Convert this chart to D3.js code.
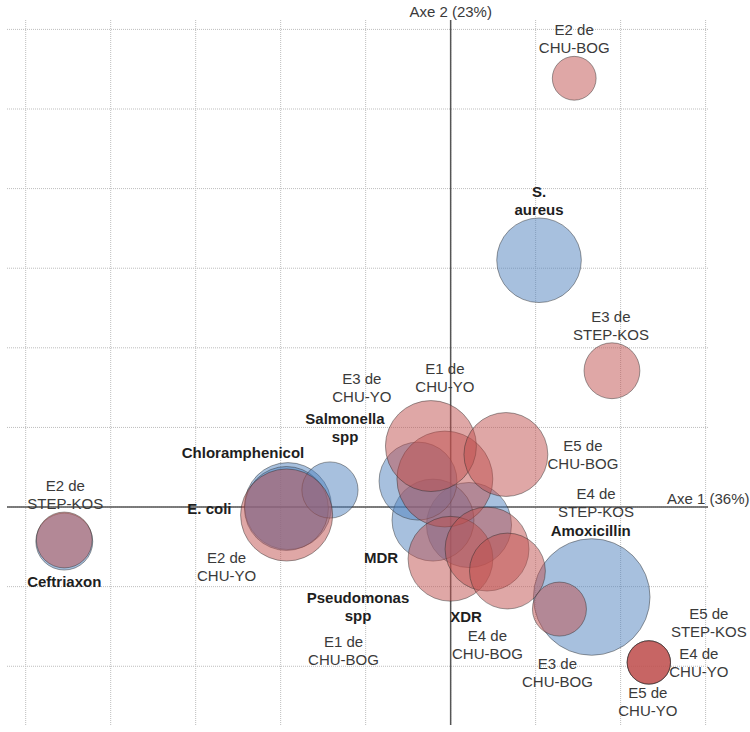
<!DOCTYPE html>
<html>
<head>
<meta charset="utf-8">
<script src="https://cdn.jsdelivr.net/npm/d3@7/dist/d3.min.js"></script>
<style>
  body { margin: 0; background: #fff; }
  text { font-family: Arial, "Liberation Sans", sans-serif; }
</style>
</head>
<body>
<div id="chart"></div>
<script>

// variables (bacteria, antibiotics, resistance) - blue series
const varNames = ["S. aureus", "Amoxicillin", "Ceftriaxon", "E. coli", "Chloramphenicol",
                  "Salmonella spp", "MDR", "Pseudomonas spp", "XDR"];
const varX    = [0.52, 0.83, -2.273, -0.966, -0.957, -0.71, -0.192, -0.104, 0.108];
const varY    = [1.55, -0.565, -0.217, -0.009, 0.006, 0.107, 0.163, -0.082, -0.113];
const varSize = [17.9, 34, 8.1, 17.6, 18.9, 7.9, 15.2, 16.8, 18.1];

// sites / periods - red series
const siteNames = ["E1 de CHU-BOG", "E2 de CHU-BOG", "E3 de CHU-BOG", "E4 de CHU-BOG", "E5 de CHU-BOG",
                   "E1 de CHU-YO", "E2 de CHU-YO", "E3 de CHU-YO", "E4 de CHU-YO", "E5 de CHU-YO",
                   "E2 de STEP-KOS", "E3 de STEP-KOS", "E4 de STEP-KOS", "E5 de STEP-KOS"];
const siteX    = [-0.001, 0.727, 0.64, 0.334, 0.325, -0.116, -0.965, -0.034, 1.166, 1.166, -2.273, 0.949, 0.214, 1.166];
const siteY    = [-0.325, 2.693, -0.641, -0.402, 0.33, 0.383, -0.05, 0.176, -0.976, -0.976, -0.207, 0.856, -0.264, -0.976];
const siteSize = [18, 4.8, 7.3, 14.4, 17.6, 20.7, 21.2, 23, 4.7, 4.7, 7.8, 7.8, 17.6, 4.7];

const axisX = "Axe 1 (36%)";
const axisY = "Axe 2 (23%)";

// where each label sits relative to its bubble (first line centre)
const labelPos = {
  "S. aureus": [0, -68], "Amoxicillin": [-1, -66], "Ceftriaxon": [0, 40], "E. coli": [-77, 1],
  "Chloramphenicol": [-45, -53], "Salmonella spp": [15, -71], "MDR": [-37, 77],
  "Pseudomonas spp": [-75, 78], "XDR": [-3, 92],
  "E1 de CHU-BOG": [-107, 83], "E2 de CHU-BOG": [0, -48], "E3 de CHU-BOG": [-2, 55],
  "E4 de CHU-BOG": [-20, 65], "E5 de CHU-BOG": [77, -8],
  "E1 de CHU-YO": [14, -77], "E2 de CHU-YO": [-60, 43], "E3 de CHU-YO": [-83, -100],
  "E4 de CHU-YO": [50, -8], "E5 de CHU-YO": [-1, 31],
  "E2 de STEP-KOS": [1, -54], "E3 de STEP-KOS": [-1, -54], "E4 de STEP-KOS": [109, -55],
  "E5 de STEP-KOS": [60, -48]
};

const width = 750, height = 732;

const svg = d3.select("#chart").append("svg")
  .attr("width", width)
  .attr("height", height);

const x = d3.scaleLinear().domain([-2.61, 1.514]).range([7, 708]);
const y = d3.scaleLinear().domain([-1.369, 3.059]).range([725, 20]);
const r = d3.scaleSqrt().domain([0, 34]).range([0, 58.3]);

// dotted grid
const grid = svg.append("g");
grid.selectAll(".gx")
  .data(d3.range(-2.5, 1.51, 0.5))
  .enter().append("line")
  .attr("x1", d => x(d)).attr("x2", d => x(d))
  .attr("y1", y.range()[1]).attr("y2", y.range()[0])
  .attr("stroke", "#bdbdbd").attr("stroke-dasharray", "1,1");
grid.selectAll(".gy")
  .data(d3.range(-1, 3.01, 0.5))
  .enter().append("line")
  .attr("y1", d => y(d)).attr("y2", d => y(d))
  .attr("x1", x.range()[0]).attr("x2", x.range()[1])
  .attr("stroke", "#bdbdbd").attr("stroke-dasharray", "1,1");

// axes through the origin
svg.append("line")
  .attr("x1", x.range()[0]).attr("x2", x.range()[1])
  .attr("y1", y(0)).attr("y2", y(0))
  .attr("stroke", "#555").attr("stroke-width", 1.5);
svg.append("line")
  .attr("x1", x(0)).attr("x2", x(0))
  .attr("y1", y.range()[1]).attr("y2", y.range()[0])
  .attr("stroke", "#555").attr("stroke-width", 1.5);

function makeSeries(names, xs, ys, sizes, bold) {
  return names.map((n, i) => ({ name: n, x: xs[i], y: ys[i], size: sizes[i], bold: bold }));
}
const vars = makeSeries(varNames, varX, varY, varSize, true);
const sites = makeSeries(siteNames, siteX, siteY, siteSize, false);

function drawBubbles(data, fill) {
  const sorted = data.slice().sort((a, b) => b.size - a.size);
  svg.append("g").selectAll("circle")
    .data(sorted)
    .enter().append("circle")
    .attr("cx", d => x(d.x))
    .attr("cy", d => y(d.y))
    .attr("r", d => r(d.size))
    .attr("fill", fill)
    .attr("fill-opacity", 0.5)
    .attr("stroke", "#2a2a2a")
    .attr("stroke-opacity", 0.45)
    .attr("stroke-width", 1);
}
drawBubbles(vars, "#4F81BD");
drawBubbles(sites, "#C0504D");

function lines(name) {
  if (name.indexOf(" de ") > 0) {
    const k = name.indexOf(" de ") + 3;
    return [name.slice(0, k), name.slice(k + 1)];
  }
  if (name === "E. coli") return [name];
  const parts = name.split(" ");
  return parts.length > 1 ? [parts[0], parts.slice(1).join(" ")] : [name];
}

const labels = svg.append("g").selectAll("text")
  .data(vars.concat(sites))
  .enter().append("text")
  .attr("text-anchor", "middle")
  .attr("font-size", 15)
  .attr("font-weight", d => d.bold ? "bold" : "normal")
  .attr("fill", d => d.bold ? "#1e1e1e" : "#3a3a3a");

labels.each(function (d) {
  const off = labelPos[d.name];
  const cx = x(d.x) + off[0];
  const cy = y(d.y) + off[1];
  d3.select(this).selectAll("tspan")
    .data(lines(d.name))
    .enter().append("tspan")
    .attr("x", cx)
    .attr("y", (t, i) => cy + 5 + i * 18)
    .text(t => t);
});

// axis titles
svg.append("text")
  .attr("x", x(0)).attr("y", 17)
  .attr("text-anchor", "middle")
  .attr("font-size", 15).attr("fill", "#3a3a3a")
  .text(axisY);
svg.append("text")
  .attr("x", 667).attr("y", y(0) - 3)
  .attr("font-size", 15).attr("fill", "#3a3a3a")
  .text(axisX);

</script>
</body>
</html>
